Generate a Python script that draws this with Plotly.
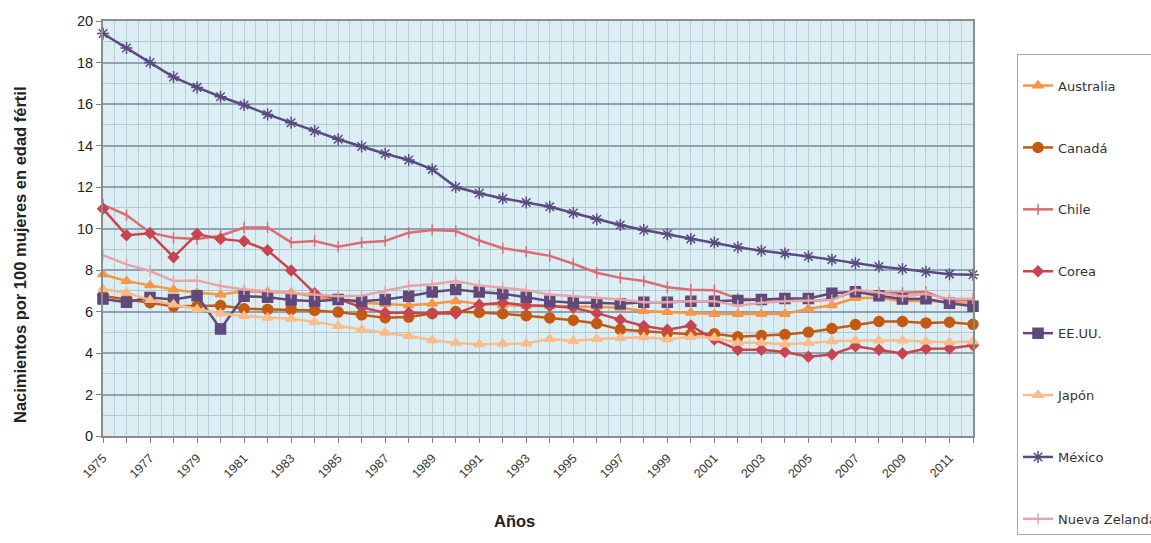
import plotly.graph_objects as go

years = list(range(1975, 2013))

australia = [7.79, 7.47, 7.26, 7.06, 6.90, 6.82, 6.97, 6.94, 6.90, 6.72,
             6.55, 6.42, 6.35, 6.30, 6.37, 6.50, 6.37, 6.30, 6.26, 6.26,
             6.26, 6.23, 6.18, 6.02, 5.98, 5.94, 5.88, 5.88, 5.88, 5.88,
             6.13, 6.30, 6.65, 6.66, 6.50, 6.52, 6.45, 6.35]
canada = [6.75, 6.58, 6.42, 6.25, 6.26, 6.29, 6.13, 6.10, 6.10, 6.05,
          5.97, 5.84, 5.70, 5.73, 5.90, 6.00, 5.95, 5.89, 5.80, 5.69,
          5.58, 5.42, 5.13, 5.05, 4.97, 4.90, 4.93, 4.78, 4.84, 4.89,
          5.00, 5.18, 5.37, 5.52, 5.52, 5.45, 5.48, 5.38]
chile = [11.15, 10.65, 9.80, 9.55, 9.50, 9.65, 10.05, 10.05, 9.33, 9.40,
         9.12, 9.33, 9.40, 9.80, 9.93, 9.88, 9.42, 9.05, 8.88, 8.68,
         8.30, 7.87, 7.62, 7.47, 7.17, 7.05, 7.03, 6.62, 6.58, 6.58,
         6.48, 6.60, 6.97, 6.90, 6.90, 6.94, 6.52, 6.55]
corea = [10.95, 9.68, 9.77, 8.62, 9.73, 9.50, 9.38, 8.95, 7.98, 6.88,
         6.60, 6.20, 5.94, 5.94, 5.90, 5.90, 6.33, 6.42, 6.30, 6.26,
         6.18, 5.92, 5.60, 5.30, 5.12, 5.32, 4.65, 4.16, 4.16, 4.05,
         3.82, 3.93, 4.32, 4.16, 3.98, 4.20, 4.22, 4.38]
eeuu = [6.60, 6.45, 6.68, 6.58, 6.76, 5.16, 6.74, 6.69, 6.55, 6.50,
        6.58, 6.50, 6.58, 6.74, 6.94, 7.06, 6.94, 6.85, 6.69, 6.50,
        6.42, 6.42, 6.37, 6.45, 6.45, 6.50, 6.50, 6.53, 6.58, 6.63,
        6.63, 6.88, 6.95, 6.76, 6.60, 6.61, 6.40, 6.25]
japon = [7.08, 6.90, 6.55, 6.34, 6.10, 5.90, 5.78, 5.70, 5.65, 5.50,
         5.30, 5.13, 4.98, 4.82, 4.62, 4.48, 4.42, 4.45, 4.46, 4.68,
         4.58, 4.68, 4.72, 4.76, 4.66, 4.77, 4.73, 4.50, 4.50, 4.42,
         4.48, 4.57, 4.60, 4.60, 4.60, 4.56, 4.52, 4.56]
mexico = [19.40, 18.70, 18.00, 17.30, 16.80, 16.35, 15.95, 15.50, 15.10, 14.70,
          14.30, 13.95, 13.60, 13.30, 12.85, 12.00, 11.70, 11.45, 11.25, 11.05,
          10.75, 10.45, 10.17, 9.93, 9.72, 9.50, 9.32, 9.10, 8.93, 8.80,
          8.65, 8.50, 8.33, 8.17, 8.05, 7.92, 7.80, 7.77]
nueva_zelanda = [8.72, 8.27, 7.95, 7.47, 7.50, 7.23, 7.06, 6.98, 6.90, 6.80,
                 6.74, 6.76, 6.98, 7.23, 7.31, 7.47, 7.25, 7.15, 7.03, 6.82,
                 6.74, 6.66, 6.58, 6.45, 6.45, 6.50, 6.50, 6.28, 6.42, 6.50,
                 6.53, 6.55, 7.05, 6.92, 6.72, 6.85, 6.60, 6.62]

tick_years = list(range(1975, 2013))
tick_text = [str(y) if (y - 1975) % 2 == 0 else "" for y in tick_years]

# name, values, colour, marker symbol, marker size
series = [
    ("Australia", australia, "#F79646", "triangle-up", 9),
    ("Canadá", canada, "#C45A12", "circle", 10),
    ("Chile", chile, "#DB6C73", "line-ns-open", 8),
    ("Corea", corea, "#C8454F", "diamond", 8),
    ("EE.UU.", eeuu, "#604A7B", "square", 10),
    ("Japón", japon, "#F9BC8A", "triangle-up", 9),
    ("México", mexico, "#5B4A80", "asterisk-open", 10),
    ("Nueva Zelanda", nueva_zelanda, "#E6A6A9", "line-ns-open", 8),
]

fig = go.Figure()
for name, vals, color, symbol, size in series:
    fig.add_trace(go.Scatter(
        x=years, y=vals, name=name, mode="lines+markers",
        line=dict(color=color, width=2.5),
        marker=dict(symbol=symbol, size=size, color=color,
                    line=dict(color=color, width=1.5)),
        cliponaxis=False, legendgroup=name,
    ))

W, H = 1151, 543

fig.update_layout(
    width=W, height=H, autosize=False,
    margin=dict(l=103, r=178, t=21, b=107),
    paper_bgcolor="white", plot_bgcolor="#DBEEF4",
    font=dict(family="Liberation Sans, Arial, sans-serif", color="#222"),
    showlegend=True,
    legend=dict(
        xref="container", yref="container", x=1017 / W, y=1 - 54 / H,
        xanchor="left", yanchor="top", maxheight=1,
        bordercolor="#A6A6A6", borderwidth=1, bgcolor="white",
        title=dict(text=" ", font=dict(size=12)),
        font=dict(family="DejaVu Sans, sans-serif", size=13, color="#333"),
        tracegroupgap=42, itemwidth=30,
    ),
    annotations=[
        dict(text="<b>Nacimientos por 100 mujeres en edad fértil</b>",
             xref="paper", yref="paper", x=(20 - 103) / (W - 103 - 178),
             y=(436 - 255) / (436 - 21), xanchor="center", yanchor="middle",
             textangle=-90, showarrow=False,
             font=dict(size=16.5, color="#222")),
        dict(text="<b>Años</b>",
             xref="paper", yref="paper", x=(514 - 103) / (W - 103 - 178),
             y=(436 - 521) / (436 - 21), xanchor="center", yanchor="middle",
             showarrow=False, font=dict(size=16.5, color="#222")),
    ],
)

fig.update_xaxes(
    range=[1975, 2012],
    tickmode="array", tickvals=tick_years, ticktext=tick_text,
    tickangle=-45, tickfont=dict(size=12.5, color="#333"),
    ticklabelstandoff=3,
    ticks="outside", ticklen=5, tickcolor="#808080",
    showgrid=True, gridcolor="#BBCDD6", gridwidth=1,
    minor=dict(tickmode="linear", tick0=1975.5, dtick=1, showgrid=True,
               gridcolor="#BBCDD6", gridwidth=1, ticks=""),
    showline=True, linecolor="#8C8C8C", linewidth=2, mirror=True,
    zeroline=False,
)

fig.update_yaxes(
    range=[0, 20], tickmode="linear", tick0=0, dtick=2,
    tickfont=dict(size=14.5, color="#222"),
    ticks="outside", ticklen=5, tickcolor="#808080",
    showgrid=True, gridcolor="#8FA3AE", gridwidth=2,
    minor=dict(tickmode="linear", tick0=1, dtick=2, showgrid=True,
               gridcolor="#B5C8D1", gridwidth=1, ticks=""),
    showline=True, linecolor="#8C8C8C", linewidth=2, mirror=True,
    zeroline=False,
)

fig.write_html("out.html")
